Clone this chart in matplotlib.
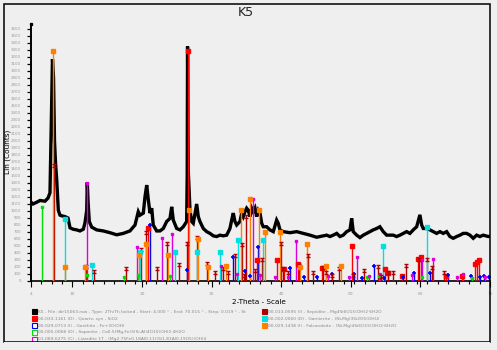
import matplotlib
matplotlib.use("Agg")
import matplotlib.pyplot as plt
from matplotlib.path import Path
from matplotlib.patches import Rectangle

two_theta = [4.00, 4.33, 4.76, 5.34, 6.05, 6.49, 6.77, 6.99, 7.13, 7.28, 7.42, 7.56, 7.74, 7.97,
             8.21, 8.50, 8.93, 9.36, 9.65, 10.08, 10.61, 11.08, 11.56, 11.80, 12.05, 12.13, 12.26,
             12.42, 12.76, 13.48, 14.43, 15.39, 16.36, 17.30, 18.26, 18.99, 19.46, 19.70, 20.18,
             20.42, 20.67, 20.90, 21.14, 21.39, 21.61, 22.10, 22.58, 23.05, 23.54, 24.02, 24.26,
             24.49, 24.98, 25.45, 25.93, 26.41, 26.49, 26.54, 26.63, 26.89, 27.13, 27.36, 27.85,
             28.08, 28.32, 28.80, 29.29, 29.76, 30.24, 30.72, 31.20, 31.67, 32.16, 32.63, 32.88,
             33.11, 33.35, 33.60, 34.07, 34.32, 34.55, 34.79, 35.03, 35.26, 35.51, 35.75, 35.98,
             36.23, 36.47, 36.70, 36.95, 37.19, 37.42, 37.91, 38.38, 38.86, 39.34, 39.57, 39.82,
             40.29, 41.26, 42.22, 43.17, 44.13, 45.09, 46.05, 46.53, 47.00, 47.48, 47.97, 48.44,
             48.91, 49.40, 49.88, 50.12, 50.35, 50.84, 51.31, 51.79, 52.28, 52.75, 53.22, 53.71,
             54.18, 54.66, 55.15, 55.62, 56.09, 56.58, 57.06, 57.54, 58.02, 58.49, 58.97, 59.46,
             59.93, 60.18, 60.41, 60.90, 61.37, 61.85, 62.33, 62.81, 63.28, 63.77, 64.24, 64.72,
             65.21, 65.68, 66.15, 66.64, 67.12, 67.59, 68.08, 68.55, 69.03, 69.75, 70.00]
counts = [1130, 1100, 1120, 1150, 1140, 1185, 1260, 2400, 3170, 2900, 2000, 1700, 1440, 1010,
          940, 930, 920, 900, 760, 740, 730, 715, 740, 830, 1010, 1410, 1100,
          850, 770, 730, 715, 690, 660, 680, 715, 800, 990, 940, 970,
          1200, 1370, 1160, 970, 1040, 800, 715, 715, 750, 850, 895, 1060,
          870, 750, 730, 775, 850, 1500, 3350, 1600, 1010, 850, 825, 1100,
          920, 850, 750, 705, 680, 645, 635, 655, 645, 655, 750, 870,
          970, 850, 800, 850, 970, 920, 990, 1040, 1010, 920, 1040, 990,
          1040, 920, 1010, 970, 825, 775, 775, 730, 705, 870, 825, 730,
          705, 690, 705, 680, 655, 625, 645, 655, 635, 655, 680, 635,
          655, 705, 730, 895, 705, 655, 620, 655, 680, 705, 730, 750,
          775, 705, 655, 655, 655, 635, 655, 680, 705, 680, 730, 775,
          945, 800, 750, 750, 730, 705, 680, 705, 680, 705, 635, 610,
          635, 655, 680, 680, 655, 610, 655, 635, 655, 635, 640]

# reference patterns (stick positions and heights)
quartz_pos = [20.90, 26.60, 36.56, 39.43, 40.40, 42.45, 45.80, 50.20, 54.95, 55.40, 57.30,
              59.70, 60.03, 63.67, 65.92, 67.84, 68.17, 68.46]
quartz_h = [750, 3290, 300, 300, 171, 238, 181, 500, 167, 110, 71,
            310, 338, 71, 71, 238, 276, 300]

goethite_pos = [21.18, 26.40, 33.10, 34.80, 35.50, 36.70, 41.25, 43.30, 45.10, 47.33, 50.50,
                51.56, 53.30, 54.80, 57.45, 59.10, 61.37, 64.00, 67.20, 68.56, 69.18, 69.90]
goethite_h = [800, 162, 338, 148, 71, 481, 190, 53, 62, 95, 95,
              48, 214, 43, 53, 119, 119, 86, 71, 62, 71, 53]

saponite_pos = [5.67, 12.10, 17.45, 19.40, 24.00, 52.28, 54.10, 60.20, 67.36]
saponite_h = [1061, 86, 53, 86, 71, 53, 71, 53, 43]

lizardite_pos = [12.13, 19.32, 22.82, 24.35, 31.30, 33.70, 35.90, 36.94, 39.15, 40.93, 42.07,
                 46.76, 49.78, 50.84, 52.60, 54.20, 58.80, 60.30, 61.75, 65.20, 66.06, 69.27]
lizardite_h = [1405, 490, 610, 671, 214, 100, 1167, 86, 53, 53, 576,
               71, 53, 348, 71, 95, 86, 300, 310, 62, 95, 53]

sepiolite_pos = [7.30, 11.90, 13.14, 17.74, 19.80, 20.60, 22.10, 23.63, 25.30, 26.41, 27.85,
                 29.29, 30.48, 31.67, 32.30, 33.35, 34.40, 34.70, 35.00, 36.23, 37.27, 39.92,
                 40.20, 41.00, 42.60, 43.90, 44.60, 46.04, 46.43, 47.33, 48.30, 50.35, 51.93,
                 53.94, 54.40, 55.38, 56.10, 57.90, 59.75, 61.00, 61.60, 63.38]
sepiolite_h = [1643, 200, 133, 171, 443, 690, 171, 524, 229, 524, 610,
               243, 110, 171, 119, 357, 514, 71, 919, 148, 300, 524,
               171, 110, 214, 357, 119, 181, 119, 71, 171, 71, 143,
               205, 62, 119, 119, 214, 300, 300, 181, 110]

garnierite_pos = [8.97, 12.85, 19.75, 24.78, 27.94, 31.20, 33.83, 37.37, 54.66, 60.98]
garnierite_h = [880, 229, 410, 410, 410, 410, 586, 586, 500, 767]

falcondoite_pos = [7.25, 8.97, 11.75, 19.60, 20.60, 23.77, 26.79, 28.00, 29.50, 32.00, 34.17,
                   35.50, 36.85, 37.60, 39.82, 42.65, 43.74, 46.50, 48.58]
falcondoite_h = [3290, 205, 205, 367, 524, 367, 1014, 600, 205, 214, 1014,
                 1167, 1014, 705, 695, 205, 524, 214, 214]

legend_left = [
    "K5 - File: dir15063.raw - Type: 2Th/Th locked - Start: 4.000 ° - End: 70.015 ° - Step: 0.019 ° - St",
    "00-033-1161 (D) - Quartz, syn - SiO2",
    "00-029-0713 (I) - Goethite - Fe+3O(OH)",
    "00-005-0068 (D) - Saponite - Ca0.5(Mg,Fe)3(Si,Al)4O10(OH)2·4H2O",
    "01-089-6275 (C) - Lizardite 1T - (Mg2.75Fe0.18Al0.11)(Si1.81Al0.19O5)(OH)4",
]
legend_right = [
    "00-013-0595 (I) - Sepiolite - Mg4Si6O15(OH)2·6H2O",
    "00-002-0060 (D) - Garnierite - (Ni,Mg)3Si2O5(OH)4",
    "00-029-1438 (I) - Falcondoite - (Ni,Mg)4Si6O15(OH)2·6H2O",
]

W, H = 497, 350
bg = "#efefef"

# "I" shaped marker used for sepiolite
sep_marker = Path([(-1, 1), (1, 1), (0, 1), (0, -0.4), (-1, -0.4), (1, -0.4)],
                  [Path.MOVETO, Path.LINETO, Path.MOVETO, Path.LINETO, Path.MOVETO, Path.LINETO])

fig = plt.figure(figsize=(W / 100, H / 100), dpi=100, facecolor=bg)
ax = fig.add_axes([30.7 / W, (H - 281) / H, (490 - 30.7) / W, (281 - 24) / H])
ax.set_facecolor(bg)

ax.plot(two_theta, counts, color="black", lw=2.4, zorder=2, solid_joinstyle="miter")

phases = [
    (quartz_pos, quartz_h, "#ff0000", dict(marker="s", ms=2.3, mfc="#ff0000", mec="#ff0000")),
    (goethite_pos, goethite_h, "#0000ff", dict(marker="+", ms=3.2, mew=1.2, mec="#0000ff")),
    (saponite_pos, saponite_h, "#00dd00", dict(marker="s", ms=1.8, mfc="#00dd00", mec="#00dd00")),
    (lizardite_pos, lizardite_h, "#dd00dd", dict(marker="s", ms=1.8, mfc="#dd00dd", mec="#dd00dd")),
    (sepiolite_pos, sepiolite_h, "#b00000", dict(marker=sep_marker, ms=2.6, mew=1.0, mec="#b00000", mfc="none")),
    (garnierite_pos, garnierite_h, "#00e0e0", dict(marker="s", ms=2.3, mfc="#00e0e0", mec="#00e0e0")),
    (falcondoite_pos, falcondoite_h, "#ff8000", dict(marker="s", ms=2.3, mfc="#ff8000", mec="#ff8000")),
]
for pos, hgt, col, mk in phases:
    ax.vlines(pos, 0, hgt, colors=col, lw=1.0, zorder=3)
    ax.plot(pos, hgt, ls="none", zorder=4, **mk)

ax.set_xlim(4, 70)
ax.set_ylim(0, 3671)
for s in ["top", "right"]:
    ax.spines[s].set_visible(False)
ax.spines["left"].set_linewidth(1.4)
ax.spines["bottom"].set_linewidth(1.2)

ax.set_xticks([4, 10, 20, 30, 40, 50, 60, 70])
ax.set_xticks([4 + 1.5 * i for i in range(45)], minor=True)
ax.set_yticks(range(0, 3700, 100))
ax.tick_params(axis="x", which="major", length=4, width=0.8, labelsize=3.2, labelcolor="#999999", pad=4)
ax.tick_params(axis="x", which="minor", length=2.5, width=0.8)
ax.tick_params(axis="y", which="major", length=3, width=0.9, labelsize=2.9, labelcolor="#999999", pad=4)
ax.plot([4], [3671], marker="s", ms=1.4, color="black", clip_on=False, zorder=5)

# titles
fig.text(246 / W, 1 - 12 / H, "K5", ha="center", va="center", fontsize=9, color="#222222")
fig.text(8.2 / W, 1 - 152 / H, "Lin (Counts)", ha="center", va="center", rotation=90,
         fontsize=5.3, color="black")
fig.text(259 / W, 1 - 302 / H, "2-Theta - Scale", ha="center", va="center", fontsize=5.2,
         color="black")

# legend
left_cols = ["black", "#ff0000", "#0000ff", "#00dd00", "#dd00dd"]
left_fill = [True, True, False, False, False]
right_cols = ["#b00000", "#00e0e0", "#ff8000"]
rows = [311.7, 318.7, 325.7, 332.5, 339.3]
for i, txt in enumerate(legend_left):
    y = rows[i]
    fc = left_cols[i] if left_fill[i] else "white"
    fig.patches.append(Rectangle((31.5 / W, 1 - (y + 2.5) / H), 5 / W, 5 / H,
                                 transform=fig.transFigure, fc=fc, ec=left_cols[i], lw=0.8))
    fig.text(38 / W, 1 - y / H, txt, ha="left", va="center", fontsize=3.15, color="#888888")
for i, txt in enumerate(legend_right):
    y = rows[i]
    fig.patches.append(Rectangle((261.5 / W, 1 - (y + 2.5) / H), 5 / W, 5 / H,
                                 transform=fig.transFigure, fc=right_cols[i], ec=right_cols[i], lw=0.8))
    fig.text(268 / W, 1 - y / H, txt, ha="left", va="center", fontsize=3.15, color="#888888")

# outer frame
fig.patches.append(Rectangle((4 / W, 1 - 342 / H), 486 / W, 338 / H, transform=fig.transFigure,
                             fill=False, ec="black", lw=1.1))
fig.patches.append(Rectangle((4 / W, 0), 486 / W, 1 - 342 / H, transform=fig.transFigure,
                             fc=bg, ec="none", zorder=5))

fig.savefig("out.png", dpi=100, facecolor=bg)
